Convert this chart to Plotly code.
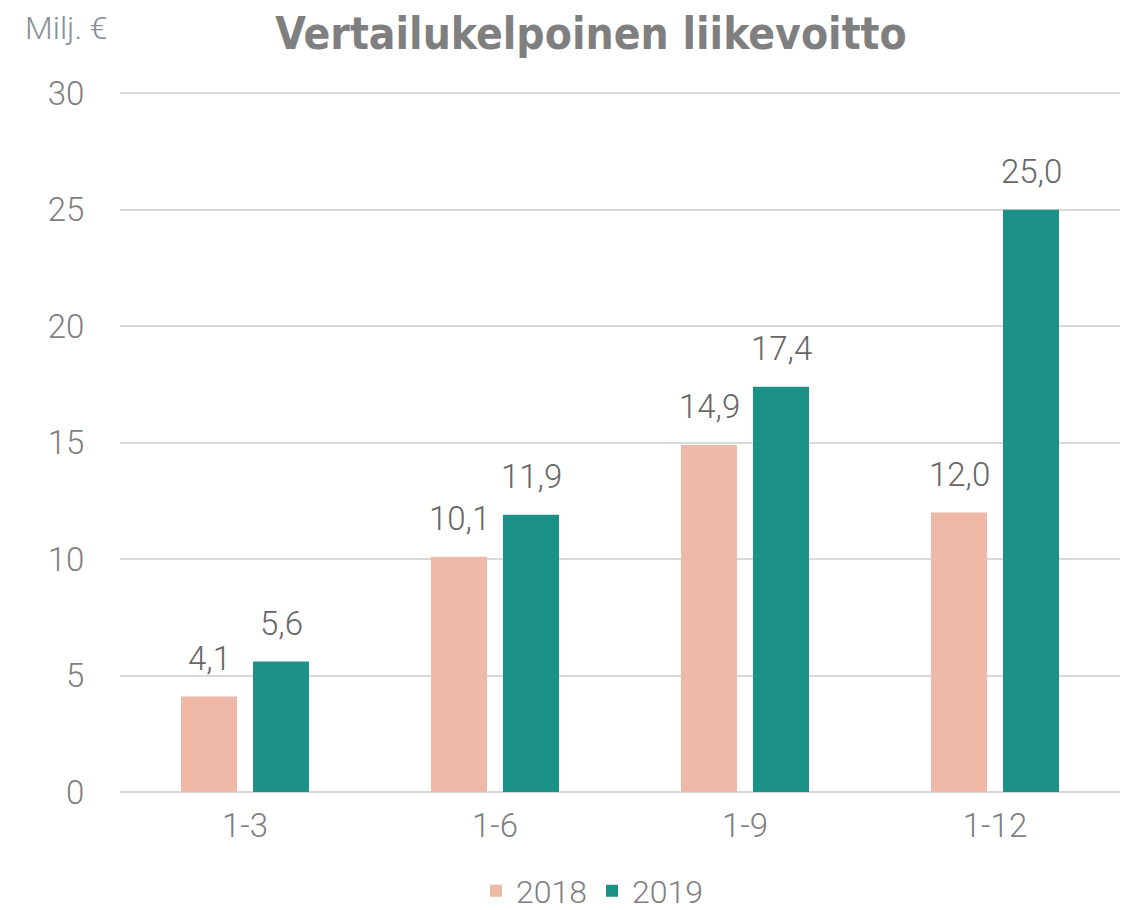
import plotly.graph_objects as go

categories = ["1-3", "1-6", "1-9", "1-12"]
values_2018 = [4.1, 10.1, 14.9, 12.0]
values_2019 = [5.6, 11.9, 17.4, 25.0]
series_names = ["2018", "2019"]
colors = ["#EFB9A8", "#1C9187"]

TEXT_GRAY = "#7f7f7f"
LABEL_GRAY = "#666666"
FONT = "Roboto"


def fmt(v):
    return f"{v:.1f}".replace(".", ",")


fig = go.Figure()
for name, vals, col in zip(series_names, [values_2018, values_2019], colors):
    fig.add_trace(go.Bar(
        x=categories, y=vals, name=name,
        marker=dict(color=col, line=dict(width=0)),
    ))

# value labels above each bar (bars are offset +-36 px from category center)
for i, vals in enumerate([values_2018, values_2019]):
    for cat, v in zip(categories, vals):
        fig.add_annotation(
            x=cat, y=v, text=fmt(v), showarrow=False,
            xshift=-36 if i == 0 else 36, yshift=17, yanchor="bottom",
            font=dict(size=33, color=LABEL_GRAY, family=FONT, weight=300),
        )

# page body has an 8px margin, so the figure is a bit smaller than the window
fig.update_layout(
    width=1128, height=902,
    margin=dict(l=112, r=16, t=83, b=118, autoexpand=False),
    paper_bgcolor="white", plot_bgcolor="white",
    barmode="group", bargap=0.424, bargroupgap=0.222,
    font=dict(family=FONT, color=TEXT_GRAY, weight=300),
    title=dict(
        text="<b>Vertailukelpoinen liikevoitto</b>",
        x=0.471, xanchor="center", xref="paper", y=0.972, yanchor="middle",
        font=dict(family="DejaVu Sans Condensed", size=44, color=TEXT_GRAY),
    ),
    legend=dict(
        orientation="h", x=0.472, xanchor="center", y=-0.141, yanchor="middle",
        font=dict(size=32, color=TEXT_GRAY, weight=300), itemwidth=30,
    ),
    showlegend=True,
)
fig.update_xaxes(
    showgrid=False, showline=False, ticks="outside", ticklen=4,
    tickcolor="white", tickfont=dict(size=33, color=TEXT_GRAY, weight=300),
)
fig.update_yaxes(
    range=[0, 30.1], tickvals=[0, 5, 10, 15, 20, 25, 30],
    showgrid=True, gridcolor="#d9d9d9", gridwidth=2,
    zeroline=True, zerolinecolor="#d9d9d9", zerolinewidth=2,
    showline=False, ticks="outside", ticklen=28, tickcolor="white",
    tickfont=dict(size=33, color=TEXT_GRAY, weight=300),
)
fig.add_annotation(
    text="Milj. €", xref="paper", yref="paper", x=-0.097, y=1.09,
    xanchor="left", yanchor="middle", showarrow=False,
    font=dict(size=32, color="#8a9098", weight=300),
)

fig.write_html("out.html")
